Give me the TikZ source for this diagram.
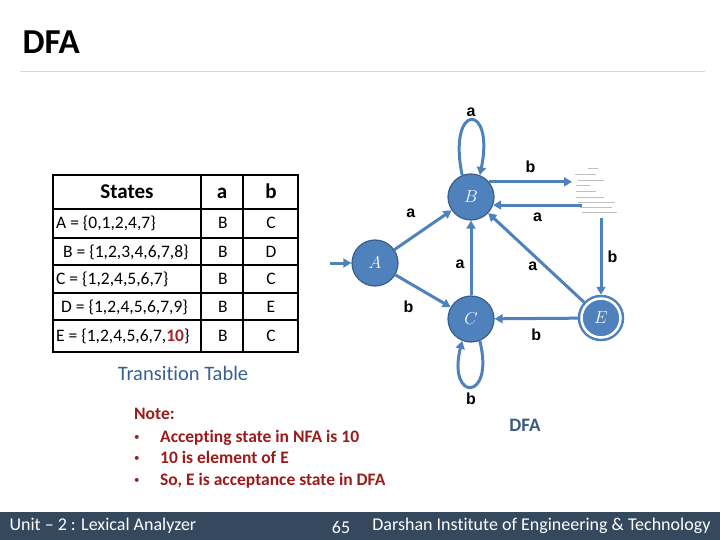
\documentclass[tikz,border=0pt]{standalone}
\usepackage{fontspec}
\setmainfont{Carlito}[Ligatures=NoCommon]
\newfontfamily\arialfont{Liberation Sans}
\usetikzlibrary{arrows.meta}
\definecolor{nodeblue}{RGB}{79,129,189}
\definecolor{nodeedge}{RGB}{56,93,138}
\definecolor{notered}{RGB}{155,27,27}
\definecolor{tenred}{RGB}{170,30,35}
\definecolor{titleblue}{RGB}{55,96,146}
\definecolor{dfablue}{RGB}{60,90,128}
\definecolor{barslate}{RGB}{52,73,94}

\begin{document}
\begin{tikzpicture}[x=1pt,y=-1pt,
  state/.style = {circle, fill=nodeblue, draw=nodeedge, line width=1.2pt,
    minimum size=46pt, inner sep=0pt, text=white,
    font=\fontsize{17}{17}\selectfont},
  accept/.style = {state, draw=nodeblue, line width=2.5pt, double=white,
    double distance=2.5pt, minimum size=39pt, outer sep=3.75pt},
  trans/.style = {draw=nodeblue, line width=3pt,
    -{Triangle[length=8pt,width=9pt]}},
  lbl/.style = {font=\arialfont\bfseries\fontsize{16}{16}\selectfont,
    text=black, inner sep=1pt},
  cell/.style = {font=\fontsize{17.5}{17.5}\selectfont, inner sep=0pt, anchor=base},
  headcell/.style = {cell, font=\fontsize{21}{21}\selectfont\bfseries},
  notetext/.style = {text=notered, font=\fontsize{17.5}{17.5}\selectfont\bfseries,
    inner sep=0pt, anchor=base west}]
  \useasboundingbox (0,0) rectangle (720,540);

  % title
  \node[anchor=west, font=\fontsize{35}{35}\selectfont\bfseries] (title) at (19,42) {DFA};
  \draw[black!15, line width=1pt] (20,72) -- (705,72);

  % transition table
  \draw[line width=1.6pt] (53,175) rectangle (298,352);
  \foreach \y in {209,238,265,293,320}
    \draw[line width=1.2pt] (53,\y) -- (298,\y);
  \draw[line width=1.2pt] (201,175) -- (201,352);
  \draw[line width=1.2pt] (243,175) -- (243,352);
  \node[headcell] (hstates) at (127,199) {States};
  \node[headcell] (ha) at (222,199) {a};
  \node[headcell] (hb) at (271,199) {b};
  \foreach \y/\x/\s/\a/\b in {
      229/56/{A = \{0,1,2,4,7\}}/B/C,
      257/63/{B = \{1,2,3,4,6,7,8\}}/B/D,
      284.5/56/{C = \{1,2,4,5,6,7\}}/B/C,
      312/61/{D = \{1,2,4,5,6,7,9\}}/B/E,
      341.5/56/{E = \{1,2,4,5,6,7,\textcolor{tenred}{\bfseries 10}\}}/B/C} {
    \node[cell, anchor=base west] (s\y) at (\x,\y) {\s};
    \node[cell] (a\y) at (223,\y) {\a};
    \node[cell] (b\y) at (271,\y) {\b};
  }
  \node[font=\fontsize{20.5}{20.5}\selectfont, text=titleblue] (ttable) at (183,373) {Transition Table};

  % note
  \node[notetext] (note) at (134,419) {Note:};
  \foreach \y/\t in {442/Accepting state in NFA is 10,
                     463/10 is element of E,
                     485/{So, E is acceptance state in DFA}} {
    \node[notetext, font=\fontsize{11}{11}\selectfont] (bul\y) at (134,\y-2) {\textbullet};
    \node[notetext] (note\y) at (160,\y) {\t};
  }

  % DFA
  \node[state] (A) at (375,263) {$A$};
  \node[state] (B) at (471,197) {$B$};
  \node[state] (C) at (471,319) {$C$};
  \node[accept] (E) at (601,318) {$E$};
  \coordinate (start) at (330,263);
  \coordinate (Din) at (572,178);
  \coordinate (Dout) at (582,206);
  \coordinate (Ddown) at (601,218);
  % tiny unreadable block of state D
  \foreach \y/\l/\r in {168/588/598, 174/575/596, 180/578/604, 185/576/590,
      191/576/596, 197/576/604, 202/578/615, 207/580/612, 212/582/617}
    \draw[black!25, line width=0.5pt] (\l,\y) -- (\r,\y);

  \draw[trans] (start) -- (A);
  \draw[trans] (A) -- node[lbl, above left=8pt, pos=0.55] {a} (B);
  \draw[trans] (A) -- node[lbl, below left=7pt, pos=0.5] {b} (C);
  \draw[trans] (C) -- node[lbl, left=4pt, pos=0.42] {a} (B);
  \draw[trans] (E) -- node[lbl, left=6pt, pos=0.4] {a} (B);
  \draw[trans] (E) -- node[lbl, below=8pt] {b} (C);
  \draw[trans] (B.40) -- node[lbl, above=7pt] {b} (B.40 -| Din);
  \draw[trans] (Dout |- B.-20) -- node[lbl, below=5pt] {a} (B.-20);
  \draw[trans] (Ddown) -- node[lbl, right=4pt] {b} (E);
  \draw[trans] (B.112) .. controls (447,102) and (495,102) .. node[lbl, above=1.5pt] {a} (B.68);
  \draw[trans] (C.-68) .. controls (495,402) and (447,402) .. node[lbl, below=4pt] {b} (C.-112);
  \node[font=\fontsize{19}{19}\selectfont\bfseries, text=dfablue] (dfa) at (525,425) {DFA};

  % footer
  \fill[barslate] (0,512) rectangle (720,540);
  \node[anchor=west, text=white, font=\fontsize{18}{18}\selectfont] (unit) at (6,526) {Unit -- 2 : Lexical Analyzer};
  \node[text=white, font=\fontsize{18}{18}\selectfont] (page) at (341,527) {65};
  \node[anchor=east, text=white, font=\fontsize{18}{18}\selectfont] (inst) at (714,526) {Darshan Institute of Engineering \& Technology};
\end{tikzpicture}
\end{document}
